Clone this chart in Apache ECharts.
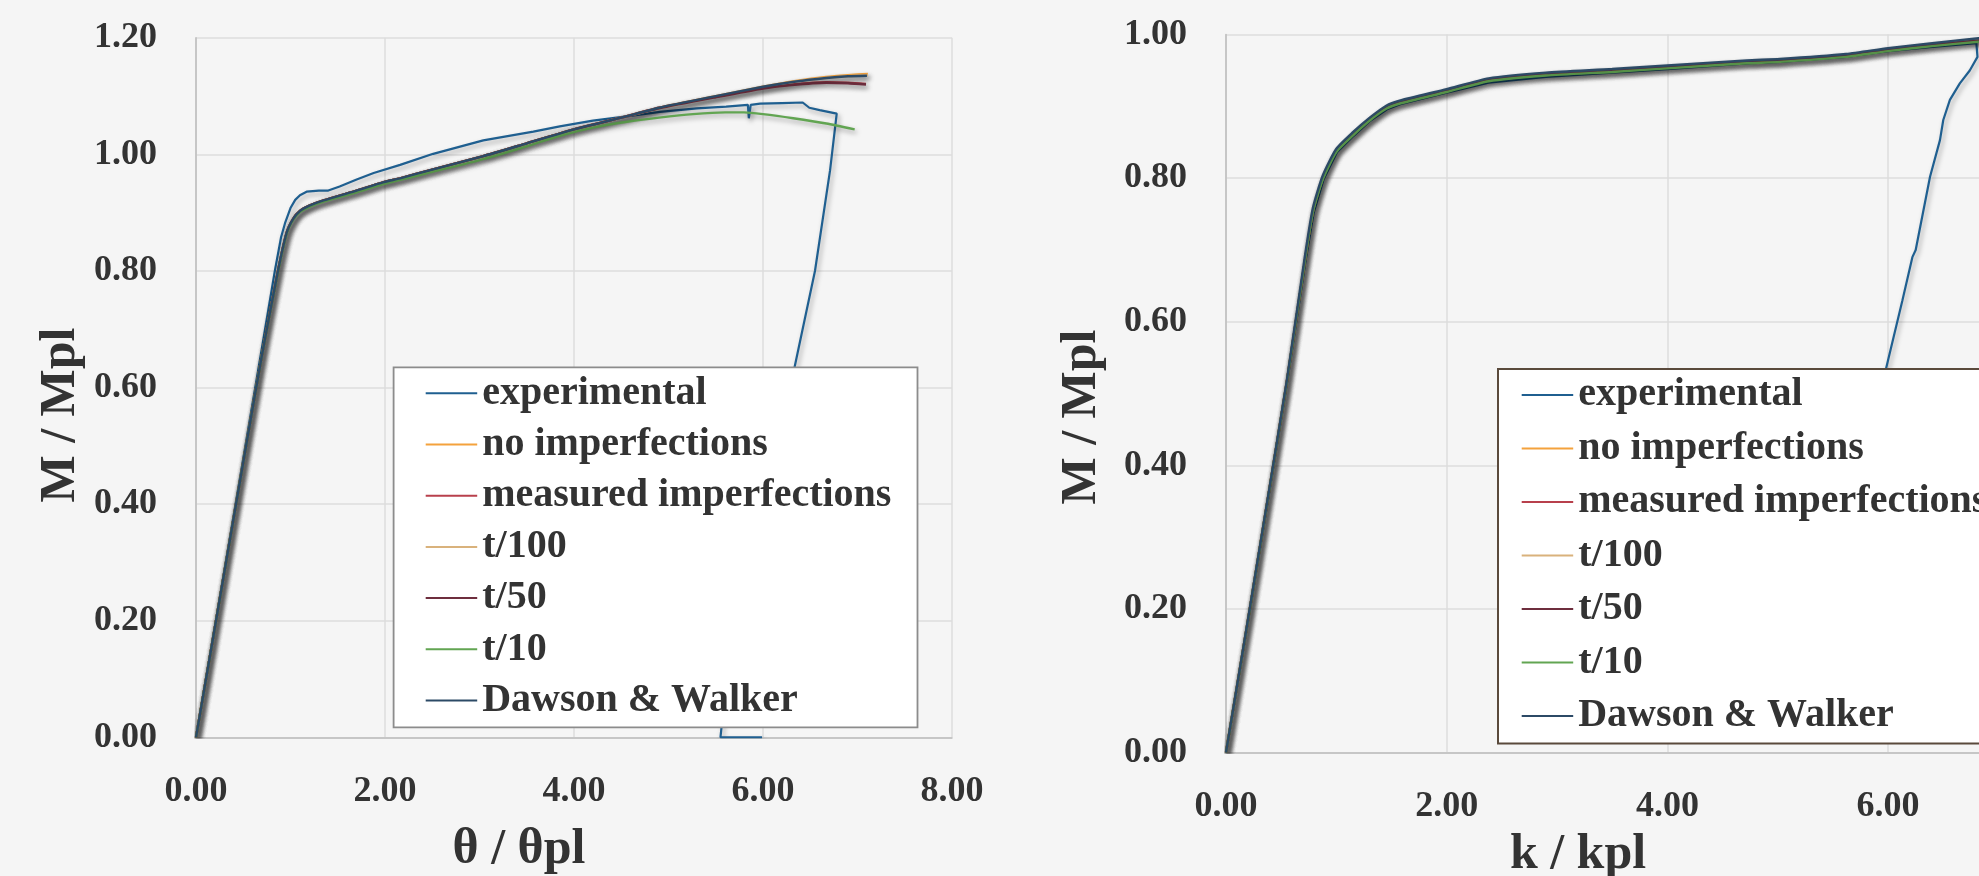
<!DOCTYPE html>
<html>
<head>
<meta charset="utf-8">
<script src="https://cdn.jsdelivr.net/npm/echarts@6/dist/echarts.min.js"></script>
<style>
html,body{margin:0;padding:0;background:#f5f5f5;}
#c{width:1979px;height:876px;}
</style>
</head>
<body>
<div id="c"></div>
<script>
// ---------- DATA ----------
const seriesNames = ['experimental','no imperfections','measured imperfections','t/100','t/50','t/10','Dawson & Walker'];
const seriesColors = ['#1f5f90','#f4a23c','#b8404c','#d9b27c','#6e2e3e','#62a552','#2c4a66'];

const xTicksLeft = [0, 2, 4, 6, 8];
const yTicksLeft = [0, 0.2, 0.4, 0.6, 0.8, 1.0, 1.2];
const xTicksRight = [0, 2, 4, 6, 8];
const yTicksRight = [0, 0.2, 0.4, 0.6, 0.8, 1.0];

// Left chart: M/Mpl vs theta/theta_pl
const thetaExperimental = [[0,0],[0.25,0.238],[0.5,0.478],[0.7,0.67],[0.836,0.802],[0.9,0.858],[0.942,0.882],[1.0,0.908],[1.05,0.922],[1.1,0.93],[1.17,0.936],[1.3,0.938],[1.4,0.938],[1.52,0.945],[1.7,0.957],[1.88,0.968],[2.16,0.982],[2.51,1.001],[3.04,1.024],[3.57,1.039],[3.85,1.048],[4.2,1.058],[4.6,1.066],[4.91,1.073],[5.3,1.079],[5.61,1.082],[5.84,1.085],[5.85,1.062],[5.87,1.085],[5.97,1.087],[6.2,1.088],[6.42,1.089],[6.49,1.080],[6.6,1.076],[6.78,1.070],[6.71,0.973],[6.55,0.80],[6.33,0.632],[6.0,0.37],[5.8,0.215],[5.58,0.053],[5.56,0.016],[5.55,0],[5.99,0]];
const thetaNoImperf = [[0,0],[0.25,0.236],[0.5,0.472],[0.7,0.658],[0.87,0.802],[0.96,0.866],[1.03,0.89],[1.1,0.903],[1.2,0.912],[1.35,0.921],[1.7,0.938],[1.98,0.952],[2.16,0.959],[2.5,0.974],[3.04,0.997],[3.5,1.019],[4.0,1.043],[4.5,1.063],[4.9,1.080],[5.5,1.100],[6.0,1.116],[6.35,1.126],[6.67,1.133],[6.9,1.136],[7.11,1.138]];
const thetaMeasured = [[0,0],[0.25,0.236],[0.5,0.472],[0.7,0.658],[0.87,0.802],[0.96,0.866],[1.03,0.89],[1.1,0.903],[1.2,0.912],[1.35,0.921],[1.7,0.938],[1.98,0.952],[2.16,0.959],[2.5,0.974],[3.04,0.997],[3.5,1.019],[4.0,1.043],[4.5,1.063],[4.9,1.080],[5.5,1.099],[6.0,1.114],[6.3,1.120],[6.67,1.124],[6.9,1.123],[7.09,1.121]];
const thetaT100 = [[0,0],[0.25,0.236],[0.5,0.472],[0.7,0.658],[0.87,0.802],[0.96,0.866],[1.03,0.89],[1.1,0.903],[1.2,0.912],[1.35,0.921],[1.7,0.938],[1.98,0.952],[2.16,0.959],[2.5,0.974],[3.04,0.997],[3.5,1.019],[4.0,1.043],[4.5,1.063],[4.9,1.079],[5.5,1.099],[6.0,1.115],[6.35,1.125],[6.67,1.131],[6.9,1.134],[7.11,1.136]];
const thetaT50 = [[0,0],[0.25,0.236],[0.5,0.472],[0.7,0.658],[0.87,0.802],[0.96,0.866],[1.03,0.89],[1.1,0.903],[1.2,0.912],[1.35,0.921],[1.7,0.938],[1.98,0.952],[2.16,0.959],[2.5,0.974],[3.04,0.997],[3.5,1.019],[4.0,1.043],[4.5,1.063],[4.9,1.079],[5.5,1.098],[6.0,1.113],[6.3,1.119],[6.67,1.123],[6.9,1.122],[7.09,1.120]];
const thetaT10 = [[0,0],[0.25,0.236],[0.5,0.472],[0.7,0.658],[0.87,0.800],[0.96,0.864],[1.03,0.888],[1.1,0.901],[1.2,0.910],[1.35,0.919],[1.7,0.935],[1.98,0.949],[2.5,0.970],[3.04,0.992],[3.5,1.014],[3.85,1.032],[4.2,1.046],[4.56,1.056],[4.9,1.063],[5.26,1.069],[5.6,1.072],[5.8,1.072],[6.0,1.069],[6.32,1.062],[6.67,1.053],[6.97,1.043]];
const thetaDawson = [[0,0],[0.25,0.236],[0.5,0.472],[0.7,0.658],[0.87,0.802],[0.96,0.866],[1.03,0.89],[1.1,0.903],[1.2,0.912],[1.35,0.921],[1.7,0.938],[1.98,0.952],[2.16,0.959],[2.5,0.974],[3.04,0.997],[3.5,1.019],[4.0,1.043],[4.5,1.063],[4.9,1.080],[5.5,1.100],[6.0,1.116],[6.35,1.125],[6.67,1.131],[6.9,1.134],[7.1,1.135]];

// Right chart: M/Mpl vs k/kpl
const kExperimental = [[0,0],[0.2,0.183],[0.37,0.342],[0.55,0.512],[0.72,0.684],[0.795,0.752],[0.886,0.799],[1.006,0.836],[1.157,0.859],[1.3,0.879],[1.46,0.896],[1.58,0.903],[2.0,0.919],[2.38,0.933],[2.9,0.941],[3.5,0.947],[4.0,0.952],[4.72,0.960],[5.02,0.962],[5.62,0.969],[6.0,0.977],[6.4,0.983],[6.8,0.988],[6.81,0.969],[6.74,0.950],[6.65,0.932],[6.56,0.909],[6.50,0.881],[6.47,0.853],[6.38,0.802],[6.25,0.700],[6.22,0.690],[6.13,0.630],[5.98,0.534],[5.85,0.42],[5.7,0.30],[5.55,0.15],[5.45,0.05]];
const kNoImperf = [[0,0],[0.2,0.185],[0.37,0.345],[0.55,0.515],[0.716,0.686],[0.791,0.756],[0.882,0.802],[1.003,0.839],[1.154,0.862],[1.3,0.882],[1.456,0.899],[1.577,0.906],[2.0,0.922],[2.38,0.937],[2.9,0.945],[3.5,0.950],[4.0,0.955],[4.72,0.962],[5.02,0.964],[5.62,0.971],[6.0,0.979],[6.4,0.986],[6.82,0.993],[7.2,0.998]];
const kMeasured = [[0,0],[0.2,0.185],[0.37,0.345],[0.55,0.515],[0.716,0.686],[0.791,0.756],[0.882,0.802],[1.003,0.839],[1.154,0.862],[1.3,0.882],[1.456,0.899],[1.577,0.906],[2.0,0.922],[2.38,0.937],[2.9,0.945],[3.5,0.950],[4.0,0.955],[4.72,0.962],[5.02,0.964],[5.62,0.971],[6.0,0.979],[6.4,0.986],[6.82,0.992],[7.2,0.996]];
const kT100 = [[0,0],[0.2,0.185],[0.37,0.345],[0.55,0.515],[0.716,0.686],[0.791,0.756],[0.882,0.802],[1.003,0.839],[1.154,0.862],[1.3,0.882],[1.456,0.899],[1.577,0.906],[2.0,0.922],[2.38,0.937],[2.9,0.945],[3.5,0.950],[4.0,0.955],[4.72,0.962],[5.02,0.964],[5.62,0.971],[6.0,0.979],[6.4,0.986],[6.82,0.993],[7.2,0.998]];
const kT50 = [[0,0],[0.2,0.185],[0.37,0.345],[0.55,0.515],[0.716,0.686],[0.791,0.756],[0.882,0.802],[1.003,0.839],[1.154,0.862],[1.3,0.882],[1.456,0.899],[1.577,0.906],[2.0,0.922],[2.38,0.937],[2.9,0.945],[3.5,0.950],[4.0,0.955],[4.72,0.962],[5.02,0.964],[5.62,0.971],[6.0,0.979],[6.4,0.986],[6.82,0.992],[7.2,0.996]];
const kT10 = [[0,0],[0.2,0.185],[0.37,0.345],[0.55,0.515],[0.716,0.686],[0.791,0.755],[0.882,0.800],[1.003,0.837],[1.154,0.860],[1.3,0.880],[1.456,0.897],[1.577,0.904],[2.0,0.920],[2.38,0.935],[2.9,0.943],[3.5,0.948],[4.0,0.953],[4.72,0.960],[5.02,0.962],[5.62,0.969],[6.0,0.977],[6.4,0.984],[6.82,0.990],[7.2,0.994]];
const kDawson = [[0,0],[0.2,0.186],[0.37,0.346],[0.55,0.517],[0.712,0.688],[0.787,0.758],[0.878,0.804],[1.0,0.841],[1.15,0.864],[1.3,0.884],[1.452,0.901],[1.573,0.908],[2.0,0.924],[2.38,0.939],[2.9,0.947],[3.5,0.952],[4.0,0.957],[4.72,0.964],[5.02,0.966],[5.62,0.973],[6.0,0.981],[6.4,0.988],[6.82,0.995],[7.2,1.0]];

const leftData = [thetaExperimental, thetaNoImperf, thetaMeasured, thetaT100, thetaT50, thetaT10, thetaDawson];
const rightData = [kExperimental, kNoImperf, kMeasured, kT100, kT50, kT10, kDawson];

// ---------- STYLE ----------
const FONT = 'Liberation Serif';
const TXT = '#333333';

function xAxisCfg(gridIndex, ticks) {
  return {
    type: 'value', gridIndex: gridIndex,
    min: ticks[0], max: ticks[ticks.length - 1], interval: ticks[1] - ticks[0],
    axisTick: { show: false },
    axisLine: { show: true, onZero: false, lineStyle: { color: '#bdbdbd', width: 1.5 } },
    splitLine: { show: true, lineStyle: { color: '#dddddd', width: 1.5 } },
    axisLabel: { formatter: v => v.toFixed(2), fontFamily: FONT, fontWeight: 'bold', fontSize: 36, color: TXT, margin: 36 }
  };
}
function yAxisCfg(gridIndex, ticks) {
  return {
    type: 'value', gridIndex: gridIndex,
    min: ticks[0], max: ticks[ticks.length - 1], interval: ticks[1] - ticks[0],
    axisTick: { show: false },
    axisLine: { show: true, onZero: false, lineStyle: { color: '#bdbdbd', width: 1.5 } },
    splitLine: { show: true, lineStyle: { color: '#dddddd', width: 1.5 } },
    axisLabel: { formatter: v => v.toFixed(2), fontFamily: FONT, fontWeight: 'bold', fontSize: 36, color: TXT, margin: 39 }
  };
}

function makeSeries(dataList, idx) {
  return dataList.map((d, i) => ({
    name: seriesNames[i],
    type: 'line',
    xAxisIndex: idx, yAxisIndex: idx,
    data: d,
    symbol: 'none',
    showSymbol: false,
    smooth: i === 0 ? false : 0.2,
    color: seriesColors[i],
    lineStyle: {
      color: seriesColors[i],
      width: i === 0 ? 2.2 : 2.4,
      shadowColor: 'rgba(0,0,0,0.35)', shadowBlur: 5, shadowOffsetX: 2, shadowOffsetY: 3
    },
    emphasis: { disabled: true },
    animation: false,
    clip: true,
    z: 2
  }));
}

function legendCfg(left, top, gap) {
  return {
    show: true, orient: 'vertical',
    left: left, top: top, padding: 0,
    icon: 'rect',
    itemWidth: 51.5, itemHeight: 2, itemGap: gap,
    backgroundColor: 'transparent',
    data: seriesNames,
    textStyle: { fontFamily: FONT, fontWeight: 'bold', fontSize: 40, lineHeight: 40, color: TXT },
    itemStyle: { borderWidth: 0, shadowBlur: 0, shadowColor: 'transparent' },
    selectedMode: false,
    z: 5
  };
}

const chart = echarts.init(document.getElementById('c'), null, { renderer: 'canvas' });
chart.setOption({
  backgroundColor: '#f5f5f5',
  animation: false,
  grid: [
    { left: 196, top: 37.8, width: 756, height: 699.6, containLabel: false, outerBoundsMode: 'none' },
    { left: 1226, top: 34.6, width: 882.8, height: 717.9, containLabel: false, outerBoundsMode: 'none' }
  ],
  xAxis: [xAxisCfg(0, xTicksLeft), xAxisCfg(1, xTicksRight)],
  yAxis: [yAxisCfg(0, yTicksLeft), yAxisCfg(1, yTicksRight)],
  legend: [legendCfg(425.7, 373.3, 11.2), legendCfg(1521.7, 375, 13.5)],
  graphic: [
    { type: 'rect', z: 3, shape: { x: 393.6, y: 367.3, width: 523.9, height: 360 },
      style: { fill: '#ffffff', stroke: '#8c8c8c', lineWidth: 1.8 } },
    { type: 'rect', z: 3, shape: { x: 1498, y: 369, width: 700, height: 374.5 },
      style: { fill: '#ffffff', stroke: '#5a4a3c', lineWidth: 2 } },
    { type: 'text', z: 5, x: 61, y: 415, rotation: Math.PI / 2,
      style: { text: 'M / Mpl', fontFamily: FONT, fontWeight: 'bold', fontSize: 50, fill: TXT, textAlign: 'center', textVerticalAlign: 'middle' } },
    { type: 'text', z: 5, x: 1082, y: 417, rotation: Math.PI / 2,
      style: { text: 'M / Mpl', fontFamily: FONT, fontWeight: 'bold', fontSize: 50, fill: TXT, textAlign: 'center', textVerticalAlign: 'middle' } },
    { type: 'text', z: 5, x: 519, y: 850,
      style: { text: 'θ / θpl', fontFamily: FONT, fontWeight: 'bold', fontSize: 50, fill: TXT, textAlign: 'center', textVerticalAlign: 'middle' } },
    { type: 'text', z: 5, x: 1578, y: 855,
      style: { text: 'k / kpl', fontFamily: FONT, fontWeight: 'bold', fontSize: 50, fill: TXT, textAlign: 'center', textVerticalAlign: 'middle' } }
  ],
  series: makeSeries(leftData, 0).concat(makeSeries(rightData, 1))
});
</script>
</body>
</html>
